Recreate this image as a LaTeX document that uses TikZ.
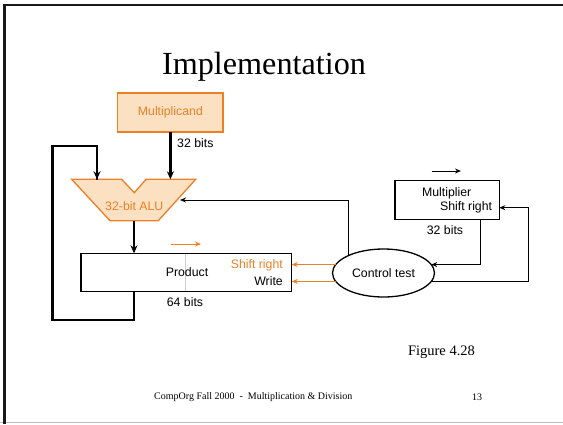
\documentclass[tikz,border=0pt]{standalone}
\usepackage{fontspec}
\setmainfont{Liberation Serif}
\setsansfont{Liberation Sans}
\usetikzlibrary{shapes.geometric,arrows.meta}

\definecolor{accent}{RGB}{236,128,38}
\definecolor{accentfill}{RGB}{252,224,194}
\definecolor{framegray}{RGB}{190,190,190}
\definecolor{divider}{RGB}{205,205,205}

\tikzset{
  lbl/.style={font=\sffamily\fontsize{12.3}{14}\selectfont, inner sep=0pt},
  regbox/.style={draw=black, line width=1.3pt, inner sep=0pt, outer sep=0pt},
  bus/.style={line width=2.2pt, -{Stealth[length=8pt,width=7pt]}},
  busline/.style={line width=2.2pt},
  wire/.style={line width=1pt, -{Stealth[length=6pt,width=5pt]}},
  owire/.style={wire, draw=accent},
}

\begin{document}
\begin{tikzpicture}[x=1pt,y=-1pt]
  \useasboundingbox (0,0) rectangle (563,424);
  \fill[white] (0,0) rectangle (563,424);

  % slide frame
  \draw[framegray, line width=1.5pt] (0,422.5) -- (563,422.5);
  \draw[black!90, line width=2.5pt] (4.3,424) -- (4.3,5) -- (563,5);

  % heading
  \node[font=\fontsize{32.2}{36}\selectfont, anchor=base, inner sep=0pt] (title) at (264,74) {Implementation};

  % registers and control
  \node[regbox, draw=accent, fill=accentfill, minimum width=105.3pt, minimum height=39pt,
        lbl, text=accent] (mcand) at (170.4,112.5) {Multiplicand};

  \node[regbox, minimum width=210.7pt, minimum height=38.4pt] (product) at (186.35,272.5) {};
  \draw[divider, line width=1.3pt] (185.7,254) -- (185.7,291);

  \node[regbox, line width=1.2pt, minimum width=104.3pt, minimum height=38.6pt] (mplier) at (447.15,200) {};

  \node[draw, ellipse, line width=1.3pt, minimum width=102pt, minimum height=48pt,
        inner sep=0pt, outer sep=0pt, lbl] (ctrl) at (383.5,273) {Control test};

  % ALU outline with its ports
  \draw[accent, fill=accentfill, line width=1.3pt, line join=miter]
    (71.7,179.3) -- (121.7,179.3) -- (134.3,192.7) -- (146,179.3) -- (195.7,179.3)
    -- (158.3,220.7) -- (110,220.7) -- cycle;
  \node[lbl, text=accent] (alu) at (134.3,206) {32-bit ALU};
  \coordinate (aluina) at (97,179.3);
  \coordinate (aluinb) at (170.4,179.3);
  \coordinate (aluout) at (134,220.7);
  \coordinate (aluctl) at (180,200);

  % register texts
  \node[lbl] (prodtxt) at (187,272.5) {Product};
  \node[lbl, text=accent, anchor=east] (prodshift) at (283,265) {Shift right};
  \node[lbl, anchor=east] (prodwrite) at (283,281) {Write};
  \node[lbl] (mpliertxt) at (446.7,193.3) {Multiplier};
  \node[lbl, anchor=east] (mplshift) at (492.3,207.7) {Shift right};

  % widths
  \node[lbl] (w1) at (195.3,142.7) {32 bits};
  \node[lbl] (w2) at (185,302.5) {64 bits};
  \node[lbl] (w3) at (445,230) {32 bits};

  % shift direction marks
  \coordinate (ps0) at (171,244);
  \coordinate (ps1) at (201,244);
  \draw[owire] (ps0) -- (ps1);
  \coordinate (ms0) at (431.7,171);
  \coordinate (ms1) at (461,171);
  \draw[wire] (ms0) -- (ms1);

  % datapath
  \draw[bus] (mcand.south) -- (aluinb);
  \draw[bus] (aluout) -- (aluout |- product.north);
  \coordinate (loopbl) at (52.5,320);
  \coordinate (looptl) at (52.5,146);
  \draw[busline, line join=miter] (product.south -| aluout) |- (loopbl) -- (looptl) -| ([yshift=-1pt]aluina);
  \draw[bus] (97,150) -- (aluina);

  % control lines
  \draw[wire] (ctrl.153) |- (aluctl);
  \draw[owire] (ctrl.170) -- (ctrl.170 -| product.east);
  \draw[owire] (ctrl.190) -- (ctrl.190 -| product.east);
  \coordinate (mtap) at (480,219.3);
  \draw[wire] (mtap) |- (ctrl.10);
  \coordinate (fbk) at (528.3,207.7);
  \draw[wire] (ctrl.350) -| (fbk) -- (fbk -| mplier.east);

  % caption and footer
  \node[font=\fontsize{14.5}{17}\selectfont, inner sep=0pt] (fig) at (441.5,352.5) {Figure 4.28};
  \node[font=\fontsize{10}{12}\selectfont, inner sep=0pt] (foot) at (253.3,397) {CompOrg Fall 2000~~-~~Multiplication \& Division};
  \node[font=\fontsize{10}{12}\selectfont, inner sep=0pt] (page) at (477,397) {13};
\end{tikzpicture}
\end{document}
